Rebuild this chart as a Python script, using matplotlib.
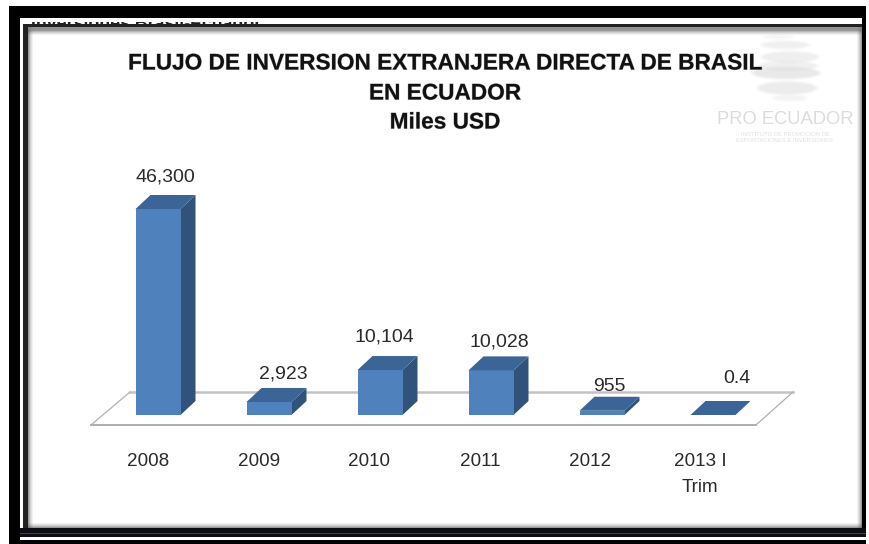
import matplotlib
matplotlib.use("Agg")
import matplotlib.pyplot as plt
import matplotlib.patheffects as pe
from matplotlib.patches import Polygon, Rectangle, Ellipse

plt.rcParams['font.family'] = ['Liberation Sans', 'DejaVu Sans']

years = ["2008", "2009", "2010", "2011", "2012", "2013 I\nTrim"]
values = [46300, 2923, 10104, 10028, 955, 0.4]
valueLabels = ["46,300", "2,923", "10,104", "10,028", "955", "0.4"]
titleLines = ["FLUJO DE INVERSION EXTRANJERA DIRECTA DE BRASIL", "EN ECUADOR", "Miles USD"]

FIG_W, FIG_H = 869, 544
FRONT = "#4f81bd"
SIDE = "#31527b"
TOP = "#3b6596"
TEXT = "#2a2a2a"

# label nudges in pixels, same order as values
labelNudgeX = [7, 14, 4, 8, 7, 24]
labelNudgeY = [32, 28, 33, 28, 24, 36]
tickNudgeX = [0, 0, -1, -1, -2, -3]
titleY = [63, 93, 122]

fig = plt.figure(figsize=(FIG_W / 100, FIG_H / 100), dpi=100)
fig.patch.set_facecolor("white")


def fx(px):
    return px / FIG_W


def fy(py):
    return 1 - py / FIG_H


def figRect(x0, y0, x1, y1, color, z=20, alpha=1.0):
    fig.add_artist(Rectangle((fx(x0), fy(y1)), (x1 - x0) / FIG_W, (y1 - y0) / FIG_H,
                             transform=fig.transFigure, color=color, lw=0, zorder=z, alpha=alpha))


def figLine(xs, ys, color, lw, z=1, ls="-"):
    fig.add_artist(plt.Line2D([fx(v) for v in xs], [fy(v) for v in ys], color=color, lw=lw,
                              ls=ls, zorder=z, transform=fig.transFigure))


# logo, soft bands built from a few stacked ellipses
for cx, cy, w, h, a in [(778, 37, 26, 2, 0.3), (785, 45, 44, 6, 0.5), (790, 57, 54, 9, 0.55),
                        (788, 66, 56, 8, 0.5), (786, 73, 64, 10, 0.85), (787, 88, 56, 11, 0.7),
                        (790, 98, 30, 4, 0.35)]:
    for grow, sub in [(8, 0.2), (4, 0.3), (0, 0.4)]:
        fig.add_artist(Ellipse((fx(cx), fy(cy)), (w + grow) / FIG_W, (h + grow * 0.6) / FIG_H,
                               transform=fig.transFigure, color="#dcdcdc", lw=0, zorder=1,
                               alpha=a * sub))
fig.text(fx(785), fy(120), "PRO ECUADOR", fontsize=13.2, color="#dcdcdc", ha="center",
         va="center", zorder=1)
fig.text(fx(785), fy(134), "INSTITUTO DE PROMOCION DE", fontsize=4.2, color="#e0e0e0",
         ha="center", va="center", zorder=1)
fig.text(fx(785), fy(140), "EXPORTACIONES E INVERSIONES", fontsize=4.2, color="#e0e0e0",
         ha="center", va="center", zorder=1)

# floor of the 3d chart
fig.add_artist(Polygon([(fx(91), fy(425)), (fx(756), fy(425)), (fx(793), fy(392)), (fx(130), fy(392))],
                       closed=True, facecolor="white", edgecolor="none",
                       transform=fig.transFigure, zorder=2))
figLine([130, 793], [392, 392], "#c4c4c4", 1.8, z=2)
figLine([91, 756], [425, 425], "#a8a8a8", 1.3, z=2)
figLine([91, 130], [425, 392], "#b0b0b0", 0.9, z=2)
figLine([756, 793], [425, 392], "#b0b0b0", 0.9, z=2)

# axes placed so that category i sits at 158 + 111 i and 46300 is 206 px tall
axLeft, axRight = 100, 780
axTop, axBottom = 209, 415
ax = fig.add_axes([fx(axLeft), fy(axBottom), (axRight - axLeft) / FIG_W, (axBottom - axTop) / FIG_H],
                  zorder=3)
ax.set_xlim((axLeft - 158) / 111, (axRight - 158) / 111)
ax.set_ylim(0, 46300)
ax.patch.set_visible(False)
for s in ax.spines.values():
    s.set_visible(False)

xPos = list(range(len(values)))
barW = 45 / 111
depthX = 15 / 111
depthY = 14 / 206 * 46300

ax.bar(xPos, values, width=barW, color=FRONT, linewidth=0, clip_on=False, zorder=3)
for x, v in zip(xPos, values):
    left, right = x - barW / 2, x + barW / 2
    ax.add_patch(Polygon([(right, 0), (right + depthX, depthY), (right + depthX, v + depthY), (right, v)],
                         closed=True, color=SIDE, lw=0, clip_on=False, zorder=2))
    ax.add_patch(Polygon([(left, v), (right, v), (right + depthX, v + depthY), (left + depthX, v + depthY)],
                         closed=True, color=TOP, lw=0, clip_on=False, zorder=4))

for x, v, lab, nx, ny in zip(xPos, values, valueLabels, labelNudgeX, labelNudgeY):
    ax.annotate(lab, (x, v), xytext=(nx * 0.72, ny * 0.72), textcoords="offset points",
                ha="center", va="center", fontsize=14, color=TEXT, annotation_clip=False, zorder=6)

ax.set_xticks([x + (n - 10) / 111 for x, n in zip(xPos, tickNudgeX)])
ax.set_xticklabels(years, fontsize=13.6, color=TEXT, linespacing=1.65, va="top")
ax.tick_params(axis="x", length=0, pad=27.5)
ax.set_yticks([])

for line, y in zip(titleLines, titleY):
    t = fig.text(fx(445), fy(y), line, fontsize=16.3, fontweight="bold", color="#111111",
                 ha="center", va="center", zorder=7)
    t.set_path_effects([pe.withStroke(linewidth=0.8, foreground="#999999", alpha=0.5)])

# picture frame, drawn over everything
figRect(9, 6, 866, 18, "black")
figRect(9, 6, 20, 544, "black")
figRect(862, 6, 866, 537, "black")
figRect(20, 528, 866, 537, "#0b0f14")
figRect(20, 533, 866, 534, "#33465a")
figRect(9, 540, 869, 544, "black")
figRect(20, 537, 869, 540, "white")
figRect(866, 6, 869, 544, "white")
figRect(23, 24, 28, 528, "#222222")
figRect(23, 24, 862, 27, "#222222")
figRect(20, 18, 23, 528, "white")
figRect(20, 18, 862, 24, "white")
# soft inner shadow
for i, a in enumerate([0.6, 0.42, 0.28, 0.16, 0.08]):
    figRect(28 + i, 27, 29 + i, 528, "#555555", alpha=a)
    figRect(861 - i, 27, 862 - i, 528, "#555555", alpha=a)
    figRect(28, 527 - i, 862, 528 - i, "#555555", alpha=a)
    figRect(28, 30 + i, 862, 31 + i, "#555555", alpha=a)
figRect(28, 27, 862, 30, "#777777", alpha=0.8)

# the cut off heading above the frame, only its lower edge shows
heading = fig.text(fx(31), fy(29), "Inversiones Brasil-Ecuador:", fontsize=12.8, fontweight="bold",
                   color="#222222", va="baseline", zorder=25)
heading.set_clip_path(Rectangle((fx(28), fy(27)), 240 / FIG_W, 5 / FIG_H, transform=fig.transFigure))
heading.set_clip_on(True)

fig.savefig("out.png", dpi=100)
plt.close(fig)
